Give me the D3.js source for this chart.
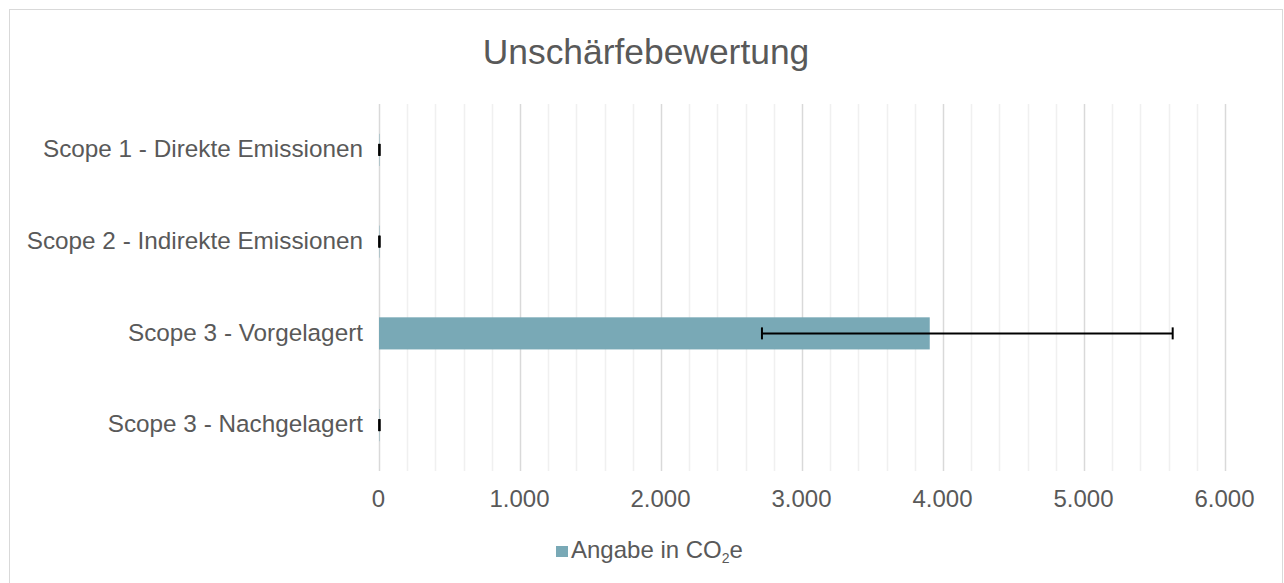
<!DOCTYPE html>
<html>
<head>
<meta charset="utf-8">
<script src="https://cdn.jsdelivr.net/npm/d3@7/dist/d3.min.js"></script>
<style>
	body { margin: 0; background: #fff; }
	svg text { font-family: "Liberation Sans", Arial, sans-serif; fill: #595959; }
</style>
</head>
<body>
<div id="grafica"></div>
<script>
var categorias = ['Scope 1 - Direkte Emissionen', 'Scope 2 - Indirekte Emissionen', 'Scope 3 - Vorgelagert', 'Scope 3 - Nachgelagert'];
var valores = [3, 3, 3906, 3];
var errorMenos = [2, 2, 1190, 2];
var errorMas = [2, 2, 1723, 2];
var ticks = [0, 1000, 2000, 3000, 4000, 5000, 6000];
var ticksMenores = d3.range(0, 6001, 200);

var W = 1284, H = 583;
var m = {t: 104, r: 59, b: 112, l: 379};

var svg = d3.select('#grafica').append('svg')
	.attr('width', W)
	.attr('height', H);

// marco
svg.append('rect')
	.attr('x', 9.5).attr('y', 9.5)
	.attr('width', 1273).attr('height', 580)
	.attr('fill', '#fff')
	.attr('stroke', '#d9d9d9');

var x = d3.scaleLinear().domain([0, 6000]).range([m.l, W - m.r]);
var y = d3.scaleBand().domain(categorias)
	.range([m.t, H - m.b])
	.paddingInner(0.65).paddingOuter(0.325);

// rejilla menor y mayor
svg.selectAll('.menor').data(ticksMenores.filter(function(d) { return d % 1000 !== 0; }))
	.enter().append('line')
	.attr('class', 'menor')
	.attr('x1', function(d) { return Math.round(x(d)) + 0.5; })
	.attr('x2', function(d) { return Math.round(x(d)) + 0.5; })
	.attr('y1', m.t).attr('y2', H - m.b)
	.attr('stroke', '#f0f0f0').attr('stroke-width', 1.5);

svg.selectAll('.mayor').data(ticks)
	.enter().append('line')
	.attr('class', 'mayor')
	.attr('x1', function(d) { return Math.round(x(d)) + 0.5; })
	.attr('x2', function(d) { return Math.round(x(d)) + 0.5; })
	.attr('y1', m.t).attr('y2', H - m.b)
	.attr('stroke', '#d9d9d9').attr('stroke-width', 1.5);

// eje x
var ejeX = d3.axisBottom(x).tickValues(ticks).tickSize(0).tickPadding(0)
	.tickFormat(function(d) { return d3.format(',')(d).replace(/,/g, '.'); });
var gx = svg.append('g').attr('transform', 'translate(-1,' + 507 + ')').call(ejeX);
gx.select('.domain').remove();
gx.selectAll('text').attr('font-size', '24px').attr('fill', '#595959')
	.attr('y', 0).attr('dy', 0);

// eje y
var ejeY = d3.axisLeft(y).tickSize(0).tickPadding(16);
var gy = svg.append('g').attr('transform', 'translate(' + m.l + ',0)').call(ejeY);
gy.select('.domain').remove();
gy.selectAll('text').attr('font-size', '24.3px').attr('fill', '#595959')
	.attr('dy', '0.3em');

// barras
var datos = categorias.map(function(c, i) {
	return {cat: c, valor: valores[i], menos: errorMenos[i], mas: errorMas[i]};
});

svg.selectAll('.barra').data(datos)
	.enter().append('rect')
	.attr('class', 'barra')
	.attr('x', x(0))
	.attr('y', function(d) { return y(d.cat); })
	.attr('width', function(d) { return x(d.valor) - x(0); })
	.attr('height', y.bandwidth())
	.attr('fill', '#79a9b6');

// barras de error
var err = svg.selectAll('.error').data(datos).enter().append('g').attr('class', 'error')
	.attr('transform', function(d) { return 'translate(0,' + (y(d.cat) + y.bandwidth() / 2) + ')'; });
err.append('line')
	.attr('x1', function(d) { return x(d.valor - d.menos); })
	.attr('x2', function(d) { return x(d.valor + d.mas); })
	.attr('stroke', '#000').attr('stroke-width', 2);
err.append('line')
	.attr('x1', function(d) { return x(d.valor - d.menos); })
	.attr('x2', function(d) { return x(d.valor - d.menos); })
	.attr('y1', -6).attr('y2', 6)
	.attr('stroke', '#000').attr('stroke-width', 2);
err.append('line')
	.attr('x1', function(d) { return x(d.valor + d.mas); })
	.attr('x2', function(d) { return x(d.valor + d.mas); })
	.attr('y1', -6).attr('y2', 6)
	.attr('stroke', '#000').attr('stroke-width', 2);

// titulo
svg.append('text')
	.attr('x', 646).attr('y', 64)
	.attr('text-anchor', 'middle')
	.attr('font-size', '35.4px')
	.text('Unschärfebewertung');

// leyenda
svg.append('rect')
	.attr('x', 556).attr('y', 546)
	.attr('width', 12).attr('height', 11)
	.attr('fill', '#79a9b6');
var ley = svg.append('text')
	.attr('x', 571).attr('y', 558)
	.attr('font-size', '24px');
ley.append('tspan').text('Angabe in CO');
ley.append('tspan').attr('font-size', '14px').attr('dy', 5).text('2');
ley.append('tspan').attr('dy', -5).text('e');
</script>
</body>
</html>
